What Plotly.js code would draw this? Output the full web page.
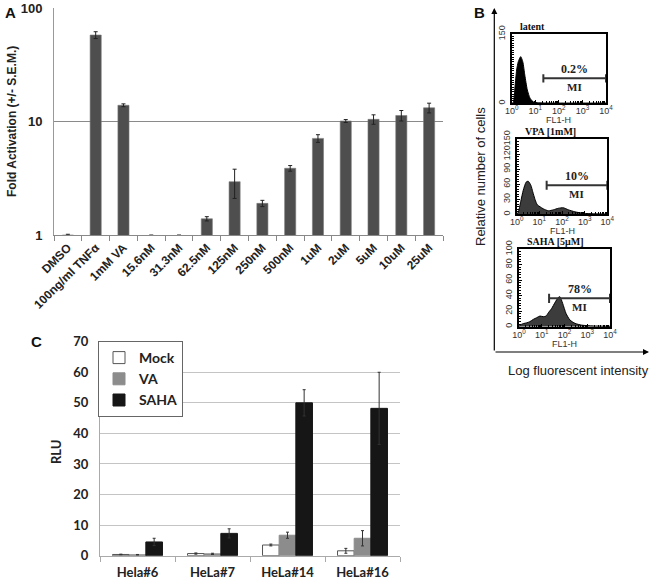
<!DOCTYPE html>
<html>
<head>
<meta charset="utf-8">
<script src="https://cdn.plot.ly/plotly-3.0.1.min.js"></script>
<style>html,body{margin:0;padding:0;background:#fff;}#chart{width:653px;height:580px;}</style>
</head>
<body>
<div id="chart"></div>
<script>
// ---------- Panel A data ----------
const A_categories = ['DMSO','100ng/ml TNFα','1mM VA','15.6nM','31.3nM','62.5nM','125nM','250nM','500nM','1uM','2uM','5uM','10uM','25uM'];
const A_values = [1.0, 57.8, 13.9, 0.99, 0.99, 1.39, 2.95, 1.9, 3.87, 7.1, 10.1, 10.45, 11.3, 13.2];
const A_errors = [0.015, 4.0, 0.4, 0.01, 0.01, 0.06, 0.85, 0.12, 0.22, 0.55, 0.3, 1.0, 1.2, 1.3];
const A_yticks = [1, 10, 100];

// ---------- Panel C data ----------
const C_groups = ['Hela#6', 'HeLa#7', 'HeLa#14', 'HeLa#16'];
const C_mock = [0.4, 0.7, 3.5, 1.6];
const C_mock_err = [0.1, 0.2, 0.3, 0.8];
const C_va = [0.3, 0.6, 6.7, 5.7];
const C_va_err = [0.1, 0.2, 1.0, 2.5];
const C_saha = [4.5, 7.3, 50, 48.2];
const C_saha_err = [1.2, 1.5, 4.3, 11.8];

// ---------- Panel B data (flow histograms, FL1-H vs counts) ----------
const B1_fl = [1.0, 1.17, 1.38, 1.62, 1.9, 2.4, 2.95, 3.6, 4.6, 6.0, 8.3, 13.5, 30, 100, 1000, 10000];
const B1_counts = [0, 2, 36, 72, 90, 101, 90, 61, 29, 11, 3, 1, 0.6, 0.5, 0.5, 0.5];
const B2_fl = [1.0, 1.17, 1.5, 1.95, 2.6, 3.2, 4.2, 5.1, 6.5, 8.1, 10.7, 14.8, 25, 42, 69, 115, 190, 370, 870, 2400, 10000];
const B2_counts = [0, 4, 25, 48, 64, 66, 58, 45, 29, 19, 15, 11, 7, 9, 12, 13, 9, 5, 2, 1, 0.5];
const B3_fl = [1.0, 1.1, 1.55, 2.2, 3.0, 4.3, 6.0, 8.3, 11.7, 15.5, 19.5, 27.5, 38, 54, 63, 83, 117, 174, 290, 575, 1860, 10000];
const B3_counts = [0, 2, 4, 5, 6.5, 9.5, 11.6, 13.7, 12.9, 13.7, 18, 23.6, 31, 37.8, 38.6, 30, 17, 8.6, 4.3, 2, 1, 0.5];
const B_titles = ['latent', 'VPA [1mM]', 'SAHA [5μM]'];
const B_pct = ['0.2%', '10%', '78%'];
const B_gate_start = [22, 21, 21];
const B_gate_level = [54, 58, 36.5];
const B_gate_cap = [9, 9, 6];
const B_ymax = [150, 150, 100];
const B_yticks = [[0, 150], [0, 30, 60, 90, 120, 150], [0, 20, 40, 60, 80, 100]];
const B_xticks = [1, 10, 100, 1000, 10000];
const B_xticktext = ['10<sup>0</sup>', '10<sup>1</sup>', '10<sup>2</sup>', '10<sup>3</sup>', '10<sup>4</sup>'];

// ---------- helpers ----------
const W = 653, H = 580;
const px = x => x / W;
const py = y => 1 - y / H;
const arial = 'Liberation Sans, Arial, sans-serif';
const calib = 'Lato, Open Sans, sans-serif';
const serif = 'Liberation Serif, Times New Roman, serif';

const traces = [];

// Panel A bars
traces.push({
  type: 'bar', x: A_categories, y: A_values, xaxis: 'x', yaxis: 'y',
  width: 0.4, showlegend: false,
  marker: {color: '#4e4e4e', line: {color: '#7a7a7a', width: 0.6}},
  error_y: {type: 'data', array: A_errors, visible: true, color: '#222', thickness: 1, width: 2}
});

// Panel C bars
const cSeries = [
  {name: 'Mock', y: C_mock, err: C_mock_err, color: '#ffffff', line: '#555', off: -0.333},
  {name: 'VA', y: C_va, err: C_va_err, color: '#8c8c8c', line: '#8c8c8c', off: -0.111},
  {name: 'SAHA', y: C_saha, err: C_saha_err, color: '#161616', line: '#161616', off: 0.111}
];
cSeries.forEach(s => traces.push({
  type: 'bar', name: s.name, x: C_groups, y: s.y, xaxis: 'x2', yaxis: 'y2',
  width: 0.222, offset: s.off,
  marker: {color: s.color, line: {color: s.line, width: 1}},
  error_y: {type: 'data', array: s.err, visible: true, color: '#333', thickness: 1, width: 1.5}
}));

// Panel B histograms + gates
const bData = [[B1_fl, B1_counts, '#000000'], [B2_fl, B2_counts, '#3c3c3c'], [B3_fl, B3_counts, '#3c3c3c']];
bData.forEach((d, i) => {
  const xa = 'x' + (i + 3), ya = 'y' + (i + 3);
  traces.push({
    type: 'scatter', mode: 'lines', x: d[0], y: d[1], xaxis: xa, yaxis: ya,
    fill: 'tozeroy', fillcolor: d[2], line: {color: '#000', width: 1, shape: 'spline', smoothing: 0.6},
    showlegend: false, hoverinfo: 'skip'
  });
  const g0 = B_gate_start[i], lv = B_gate_level[i], c = B_gate_cap[i];
  traces.push({
    type: 'scatter', mode: 'lines', xaxis: xa, yaxis: ya, showlegend: false, hoverinfo: 'skip',
    x: [g0, 10000, null, g0, g0, null, 10000, 10000],
    y: [lv, lv, null, lv - c, lv + c, null, lv - c, lv + c],
    line: {color: '#333', width: 2}, cliponaxis: false
  });
});

// Panel B box geometry (pixels)
const bBoxes = [
  {l: 511.7, r: 606, t: 34, b: 103.3},
  {l: 516.7, r: 607.3, t: 139, b: 214.3},
  {l: 519, r: 610, t: 249, b: 326.7}
];

const layout = {
  width: W, height: H,
  margin: {l: 0, r: 0, t: 0, b: 0},
  paper_bgcolor: '#fff', plot_bgcolor: 'rgba(0,0,0,0)',
  barmode: 'group',
  showlegend: true,
  font: {family: arial, color: '#222'},
  legend: {
    x: px(98), y: py(341), xanchor: 'left', yanchor: 'top',
    bgcolor: '#fff', bordercolor: '#666', borderwidth: 1,
    font: {family: calib, size: 14, weight: 'bold', color: '#222'},
    itemwidth: 30, tracegroupgap: 0
  },
  xaxis: {
    domain: [px(54), px(443)], anchor: 'y', type: 'category',
    tickson: 'boundaries', ticks: 'outside', ticklen: 5, tickcolor: '#888',
    showline: true, linecolor: '#888', linewidth: 1, showgrid: false,
    tickangle: -45, tickfont: {family: arial, size: 12, weight: 'bold', color: '#222'},
    fixedrange: true
  },
  yaxis: {
    domain: [py(235), py(8)], anchor: 'x', type: 'log', range: [0, 2],
    tickvals: A_yticks, ticktext: A_yticks.map(String),
    showgrid: true, gridcolor: '#8a8a8a', gridwidth: 1,
    showline: true, linecolor: '#999', ticks: '', zeroline: false,
    ticklabelstandoff: 8,
    tickfont: {family: arial, size: 13, weight: 'bold', color: '#222'}
  },
  xaxis2: {
    domain: [px(100), px(400)], anchor: 'y2', type: 'category',
    tickson: 'boundaries', ticks: 'outside', ticklen: 5, tickcolor: '#aaa',
    showline: true, linecolor: '#aaa', showgrid: false,
    ticklabelstandoff: 5,
    tickfont: {family: calib, size: 13, weight: 'bold', color: '#222'}
  },
  yaxis2: {
    domain: [py(555.7), py(341.7)], anchor: 'x2', range: [0, 70], dtick: 10,
    showgrid: true, gridcolor: '#c4c4c4', showline: true, linecolor: '#aaa',
    zeroline: false, ticks: '', ticklabelstandoff: 8,
    tickfont: {family: calib, size: 13, weight: 'bold', color: '#222'}
  },
  annotations: [], shapes: []
};

bBoxes.forEach((bx, i) => {
  const n = i + 3;
  layout['xaxis' + n] = {
    domain: [px(bx.l), px(bx.r)], anchor: 'y' + n, type: 'log', range: [0, 4],
    tickvals: B_xticks, ticktext: B_xticktext,
    showline: true, mirror: true, linecolor: '#000', linewidth: 2,
    showgrid: false, zeroline: false, ticks: 'inside', ticklen: 3, tickcolor: '#000',
    minor: {ticks: 'inside', ticklen: 2, tickcolor: '#000', dtick: 'D1'},
    tickfont: {family: arial, size: 9, color: '#333'},
    ticklabelstandoff: -2
  };
  layout['yaxis' + n] = {
    domain: [py(bx.b), py(bx.t)], anchor: 'x' + n, range: [0, B_ymax[i]],
    tickvals: B_yticks[i], tickangle: -90,
    showline: true, mirror: true, linecolor: '#000', linewidth: 2,
    showgrid: false, zeroline: false, ticks: 'inside', ticklen: 3, tickcolor: '#000',
    minor: {ticks: 'inside', ticklen: 2, tickcolor: '#000', dtick: B_ymax[i] / 30},
    tickfont: {family: arial, size: 9, color: '#333'},
    ticklabelstandoff: 1
  };
  // FL1-H label under box
  layout.annotations.push({
    xref: 'paper', yref: 'paper', x: px((bx.l + bx.r) / 2), y: py(bx.b + 17), xanchor: 'center', yanchor: 'middle',
    text: 'FL1-H', showarrow: false, borderpad: 0, font: {family: arial, size: 9, color: '#333'}
  });
  // title above box
  layout.annotations.push({
    xref: 'paper', yref: 'paper', x: px(bx.l + 7), y: py(bx.t - 7.5), xanchor: 'left', yanchor: 'middle',
    text: B_titles[i], showarrow: false, borderpad: 0,
    font: {family: serif, size: 10, weight: 'bold', color: '#111'}
  });
  // percentage + MI around gate
  const mid = (Math.log10(B_gate_start[i]) + 4) / 2;
  layout.annotations.push({
    xref: 'x' + n, yref: 'y' + n, x: mid, y: B_gate_level[i], xanchor: 'center', yanchor: 'bottom', yshift: 0,
    text: B_pct[i], showarrow: false, font: {family: serif, size: 12, weight: 'bold', color: '#222'}
  });
  layout.annotations.push({
    xref: 'x' + n, yref: 'y' + n, x: mid, y: B_gate_level[i], xanchor: 'center', yanchor: 'top', yshift: -1,
    text: 'MI', showarrow: false, font: {family: serif, size: 11, weight: 'bold', color: '#222'}
  });
});

// Panel labels and axis titles
const C_ = {xanchor: 'center', yanchor: 'middle'};
layout.annotations.push(
  {xref: 'paper', yref: 'paper', x: px(3), y: py(2), xanchor: 'left', yanchor: 'top', text: 'A', showarrow: false,
   font: {family: arial, size: 15, weight: 'bold', color: '#111'}},
  {xref: 'paper', yref: 'paper', x: px(472), y: py(2), xanchor: 'left', yanchor: 'top', text: 'B', showarrow: false,
   font: {family: arial, size: 15, weight: 'bold', color: '#111'}},
  {xref: 'paper', yref: 'paper', x: px(29), y: py(331), xanchor: 'left', yanchor: 'top', text: 'C', showarrow: false,
   font: {family: arial, size: 15, weight: 'bold', color: '#111'}},
  Object.assign({xref: 'paper', yref: 'paper', x: px(12), y: py(122), text: 'Fold Activation (+/- S.E.M.)', textangle: -90, showarrow: false,
   font: {family: arial, size: 12, weight: 'bold', color: '#222'}}, C_),
  Object.assign({xref: 'paper', yref: 'paper', x: px(56), y: py(452), text: 'RLU', textangle: -90, showarrow: false,
   font: {family: calib, size: 13, weight: 'bold', color: '#222'}}, C_),
  Object.assign({xref: 'paper', yref: 'paper', x: px(480), y: py(177), text: 'Relative number of cells', textangle: -90, showarrow: false,
   font: {family: arial, size: 13, color: '#222'}}, C_),
  Object.assign({xref: 'paper', yref: 'paper', x: px(578), y: py(370), text: 'Log fluorescent intensity', showarrow: false,
   font: {family: arial, size: 13, color: '#222'}}, C_),
  // big axis arrows of panel B
  {xref: 'paper', yref: 'paper', x: px(494.3), y: py(8), ax: 0, ay: 344, text: '', showarrow: true,
   arrowhead: 2, arrowsize: 1, arrowwidth: 1.2, arrowcolor: '#000'},
  {xref: 'paper', yref: 'paper', x: px(649), y: py(352), ax: -155, ay: 0, text: '', showarrow: true,
   arrowhead: 2, arrowsize: 1, arrowwidth: 1.2, arrowcolor: '#000'}
);

Plotly.newPlot('chart', traces, layout, {staticPlot: true, displayModeBar: false});
</script>
</body>
</html>
